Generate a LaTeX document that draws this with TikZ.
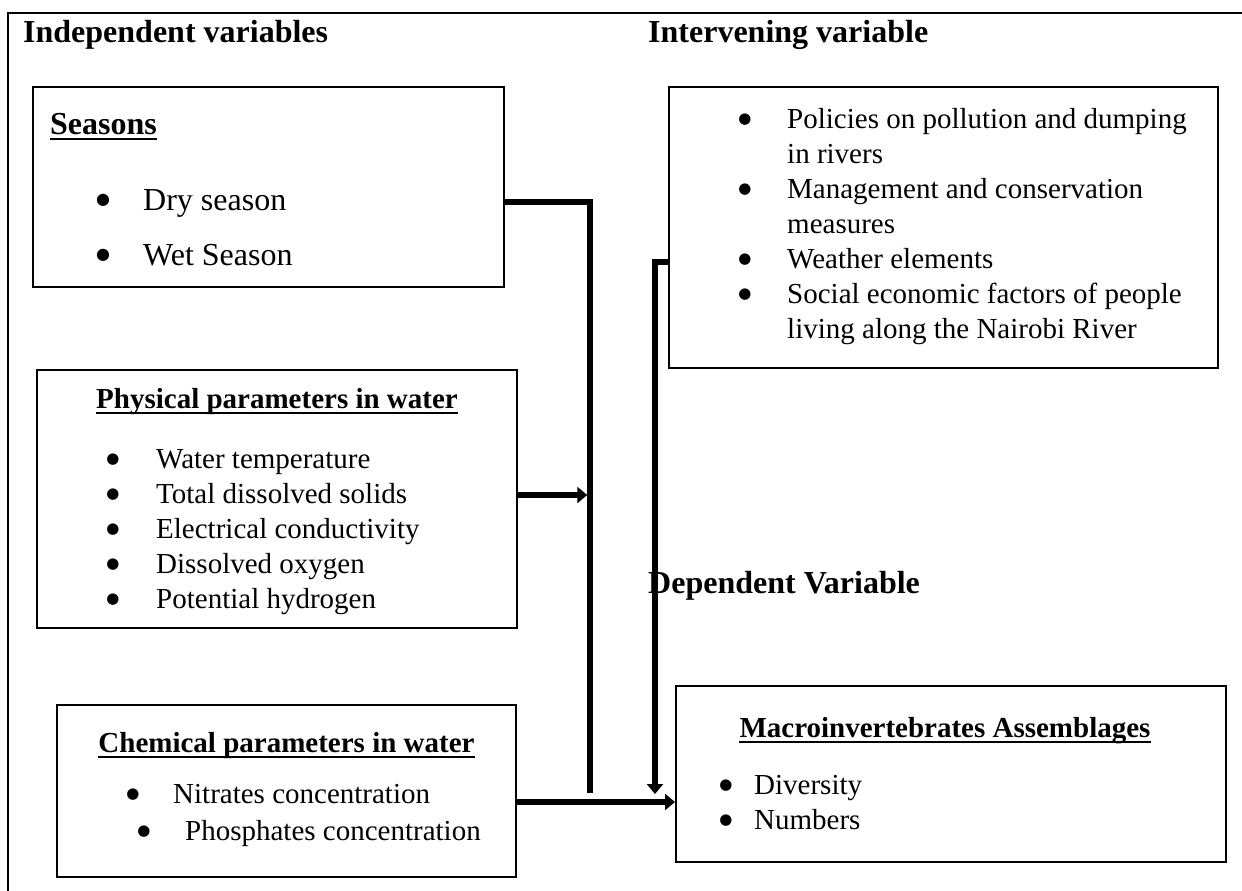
\documentclass[tikz,border=0pt]{standalone}
\usepackage{fontspec}
\setmainfont{Liberation Serif}
\newfontfamily\bulfont{DejaVu Sans}
\usetikzlibrary{arrows.meta}
\begin{document}
\begin{tikzpicture}[x=1pt,y=-1pt,
  frame/.style={line width=2pt},
  box/.style={draw, line width=2pt, rectangle, inner sep=0pt},
  title/.style={font=\fontsize{32}{38}\selectfont\bfseries, anchor=base west, inner sep=0pt},
  hdr/.style={font=\fontsize{29}{35}\selectfont\bfseries, anchor=base, inner sep=0pt},
  hdrw/.style={font=\fontsize{32}{38}\selectfont\bfseries, anchor=base west, inner sep=0pt},
  item/.style={font=\fontsize{29}{35}\selectfont, anchor=base west, inner sep=0pt},
  bul/.style={font=\bulfont\fontsize{15}{15}\selectfont, anchor=center, inner sep=0pt, yshift=8.5pt},
  bigitem/.style={font=\fontsize{32}{38}\selectfont, anchor=base west, inner sep=0pt},
  bigbul/.style={font=\bulfont\fontsize{16}{16}\selectfont, anchor=center, inner sep=0pt, yshift=9.5pt},
  uline/.style={line width=2pt},
  conn/.style={line width=5.5pt},
  arr/.style={conn, -{Triangle[width=16pt,length=10pt]}}]
\useasboundingbox (0,0) rectangle (1242,891);
% outer frame (cut off at right and bottom)
\draw[frame] (1242,13) -- (8,13) -- (8,891);

% titles
\node[title] (tindep) at (23,43) {Independent variables};
\node[title] (tinter) at (648,43) {Intervening variable};
\node[title] (tdep) at (648,593) {Dependent Variable};

% boxes
\node[box, minimum width=471pt, minimum height=200pt] (seasons) at (268.5,187) {};
\node[box, minimum width=480pt, minimum height=258pt] (phys) at (277,499) {};
\node[box, minimum width=459pt, minimum height=172pt] (chem) at (286.5,791) {};
\node[box, minimum width=549pt, minimum height=281pt] (interv) at (943.5,227.5) {};
\node[box, minimum width=550pt, minimum height=176pt] (macro) at (951,774) {};

% Seasons box
\node[hdrw] (hseas) at (50,134) {Seasons};
\draw[uline] ([yshift=-5pt]hseas.base west) -- ([yshift=-5pt]hseas.base east);
\node[bigbul] (bs1) at (103,210) {●};
\node[bigitem] (s1) at (143,210) {Dry season};
\node[bigbul] (bs2) at (103,265) {●};
\node[bigitem] (s2) at (143,265) {Wet Season};

% Physical box
\node[hdr] (hphys) at (277,408) {Physical parameters in water};
\draw[uline] ([yshift=-5pt]hphys.base west) -- ([yshift=-5pt]hphys.base east);
\node[bul] (bp1) at (113,468) {●};
\node[item] (p1) at (156,468) {Water temperature};
\node[bul] (bp2) at (113,503) {●};
\node[item] (p2) at (156,503) {Total dissolved solids};
\node[bul] (bp3) at (113,538) {●};
\node[item] (p3) at (156,538) {Electrical conductivity};
\node[bul] (bp4) at (113,573) {●};
\node[item] (p4) at (156,573) {Dissolved oxygen};
\node[bul] (bp5) at (113,608) {●};
\node[item] (p5) at (156,608) {Potential hydrogen};

% Chemical box
\node[hdr] (hchem) at (286.5,752) {Chemical parameters in water};
\draw[uline] ([yshift=-5pt]hchem.base west) -- ([yshift=-5pt]hchem.base east);
\node[bul] (bc1) at (133,803) {●};
\node[item] (c1) at (173,803) {Nitrates concentration};
\node[bul] (bc2) at (144,840) {●};
\node[item] (c2) at (185,840) {Phosphates concentration};

% Intervening box
\node[bul] (bi1) at (745,128) {●};
\node[item] (i1) at (787,128) {Policies on pollution and dumping};
\node[item] (i1b) at (787,163) {in rivers};
\node[bul] (bi2) at (745,198) {●};
\node[item] (i2) at (787,198) {Management and conservation};
\node[item] (i2b) at (787,233) {measures};
\node[bul] (bi3) at (745,268) {●};
\node[item] (i3) at (787,268) {Weather elements};
\node[bul] (bi4) at (745,303) {●};
\node[item] (i4) at (787,303) {Social economic factors of people};
\node[item] (i4b) at (787,338) {living along the Nairobi River};

% Macro box
\node[hdr] (hmac) at (945,737) {Macroinvertebrates Assemblages};
\draw[uline] ([yshift=-5pt]hmac.base west) -- ([yshift=-5pt]hmac.base east);
\node[bul] (bm1) at (726,794) {●};
\node[item] (m1) at (754,794) {Diversity};
\node[bul] (bm2) at (726,829) {●};
\node[item] (m2) at (754,829) {Numbers};

% connectors
\coordinate (junc) at (590,793);
\coordinate (itip) at (655,794);
\coordinate (sa) at ([yshift=-15pt]seasons.east);
\coordinate (pa) at ([yshift=4pt]phys.east);
\coordinate (ia) at ([yshift=-34.5pt]interv.west);
\coordinate (ca) at ([yshift=-11pt]chem.east);
\draw[conn] (sa) -| (junc);
\draw[arr, shorten >=2.75pt] (pa) -- (pa -| junc);
\draw[arr] (ia) -| (itip);
\draw[arr] (ca) -- (ca -| macro.west);
\end{tikzpicture}
\end{document}
